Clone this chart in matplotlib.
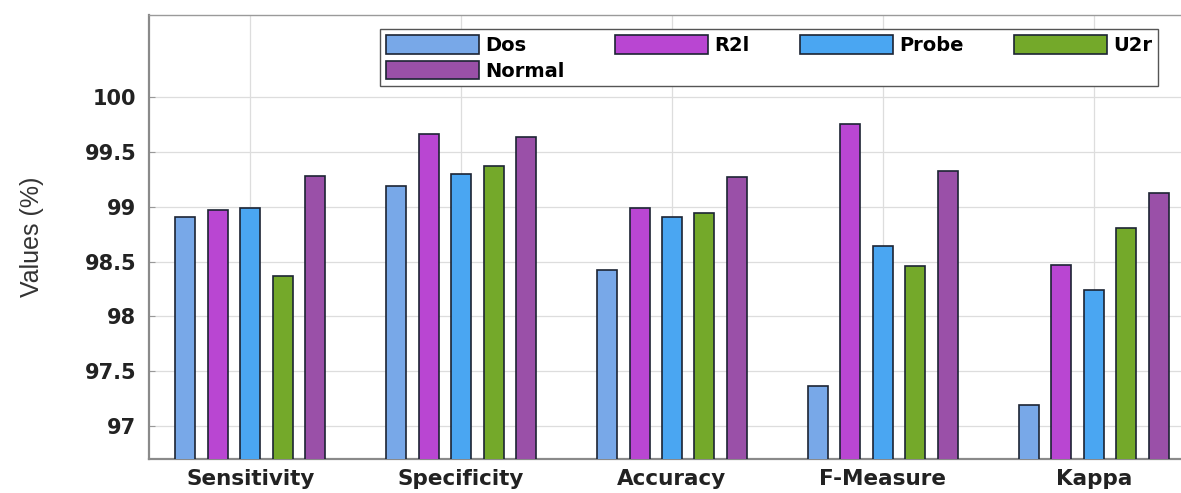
import matplotlib.pyplot as plt
import numpy as np

# metrics on x axis, one bar per attack class
metrics = ['Sensitivity', 'Specificity', 'Accuracy', 'F-Measure', 'Kappa']
classes = ['Dos', 'R2l', 'Probe', 'U2r', 'Normal']

dos_vals = [98.91, 99.19, 98.42, 97.37, 97.19]
r2l_vals = [98.97, 99.66, 98.99, 99.76, 98.47]
probe_vals = [98.99, 99.30, 98.91, 98.64, 98.24]
u2r_vals = [98.37, 99.37, 98.94, 98.46, 98.81]
normal_vals = [99.28, 99.64, 99.27, 99.33, 99.13]

yticks = [97, 97.5, 98, 98.5, 99, 99.5, 100]
ytick_labels = ['97', '97.5', '98', '98.5', '99', '99.5', '100']

colors = ['#78a8e8', '#b946d2', '#4aa6f2', '#74a92a', '#9a50a8']
series = [dos_vals, r2l_vals, probe_vals, u2r_vals, normal_vals]

fig = plt.figure(figsize=(11.81, 4.93), dpi=100)
ax = fig.add_axes([149/1181, 1 - 459/493, (1195 - 149)/1181, (459 - 15)/493])

x = np.arange(1, len(metrics) + 1)
step = 0.154
bar_w = 0.095
bars = []
for i, (vals, name) in enumerate(zip(series, classes)):
    b = ax.bar(x + (i - 2) * step, vals, width=bar_w, color=colors[i],
               edgecolor='#1c2433', linewidth=1.2, label=name, zorder=3)
    bars.append(b)

ax.set_xlim(0.52, 5.48)
ax.set_ylim(96.7, 100.75)
ax.set_xticks(x)
ax.set_xticklabels(metrics, fontsize=15.5, fontweight='bold', family='DejaVu Sans')
ax.set_yticks(yticks)
ax.set_yticklabels(ytick_labels, fontsize=15, fontweight='bold', family='DejaVu Sans')
for lab in ax.get_xticklabels() + ax.get_yticklabels():
    lab.set_color('#222222')

ax.tick_params(axis='both', direction='in', length=4, width=0.8, color='#999999')
ax.tick_params(axis='y', pad=9)
ax.tick_params(axis='x', pad=7)

ax.grid(True, color='#dddddd', linewidth=0.9, zorder=0)
ax.set_axisbelow(True)

for side in ['left', 'bottom']:
    ax.spines[side].set_color('#8a8a8a')
    ax.spines[side].set_linewidth(1.6)
ax.spines['top'].set_color('#9a9a9a')
ax.spines['top'].set_linewidth(1.0)
ax.spines['right'].set_visible(False)

ax.set_ylabel('Values (%)', fontsize=18, family='Liberation Sans', color='#333333')
ax.yaxis.set_label_coords(-0.100, 0.5)

# matplotlib fills legend columns first, so reorder to get Dos R2l Probe U2r / Normal
order = [0, 4, 1, 2, 3]
ax.legend([bars[k] for k in order], [classes[k] for k in order],
          ncol=4, loc='upper left', bbox_to_anchor=(380/1181, 1 - 29/493),
          bbox_transform=fig.transFigure, borderaxespad=0.,
          prop={'family': 'DejaVu Sans', 'weight': 'bold', 'size': 14},
          handlelength=4.8, handleheight=1.1, handletextpad=0.3,
          columnspacing=2.6, labelspacing=0.3, borderpad=0.3,
          fancybox=False, framealpha=1.0, edgecolor='#555555')

fig.savefig('out.png', dpi=100)
